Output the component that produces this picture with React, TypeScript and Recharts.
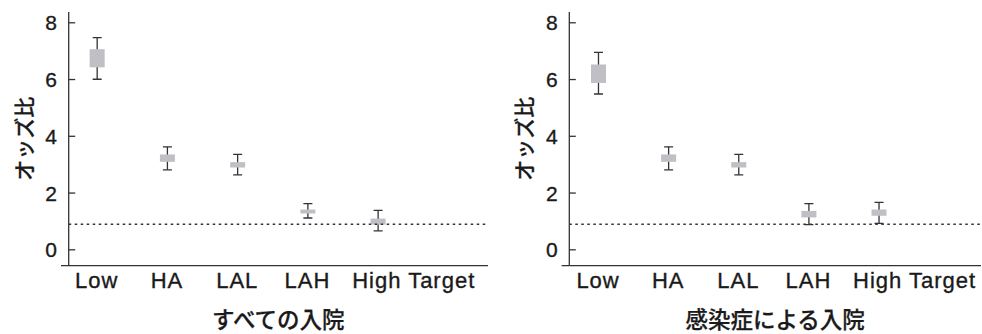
import React from 'react';
import { ComposedChart, Bar, XAxis, YAxis, ReferenceLine } from 'recharts';

// ---- data ----
const categories = ['Low', 'HA', 'LAL', 'LAH', 'High Target'];
const positions = [1, 2, 3, 4, 5];
const yTicks = [0, 2, 4, 6, 8];
const refValue = 0.9;

// すべての入院
const allBoxLo = [6.43, 3.1, 2.9, 1.28, 0.89];
const allBoxHi = [7.07, 3.36, 3.09, 1.42, 1.1];
const allCiLo = [6.01, 2.82, 2.64, 1.12, 0.67];
const allCiHi = [7.48, 3.63, 3.36, 1.63, 1.39];

// 感染症による入院
const infBoxLo = [5.88, 3.1, 2.9, 1.14, 1.2];
const infBoxHi = [6.53, 3.36, 3.09, 1.37, 1.42];
const infCiLo = [5.49, 2.82, 2.64, 0.89, 0.93];
const infCiHi = [6.96, 3.63, 3.36, 1.63, 1.67];

const titles = ['すべての入院', '感染症による入院'];
const yLabelText = 'オッズ比';

const LATIN = '"Liberation Sans", Arial, sans-serif';
const CJK = '"Noto Sans CJK JP", "Noto Sans", sans-serif';
const INK = '#1a1a1a';
const AXIS = '#333333';

type Row = {
  name: string;
  pos: number;
  ci: [number, number];
  boxLo: number;
  boxHi: number;
  ciLo: number;
  ciHi: number;
};

function buildRows(boxLo: number[], boxHi: number[], ciLo: number[], ciHi: number[]): Row[] {
  return categories.map((name, i) => ({
    name,
    pos: positions[i],
    ci: [ciLo[i], ciHi[i]],
    boxLo: boxLo[i],
    boxHi: boxHi[i],
    ciLo: ciLo[i],
    ciHi: ciHi[i],
  }));
}

const ForestMark = (props: any) => {
  const { x, y, width, height, payload } = props;
  if (x == null || y == null || !payload) return null;
  const top = height >= 0 ? y : y + height;
  const h = Math.abs(height);
  const span = payload.ciHi - payload.ciLo;
  const ppu = span > 0 ? h / span : 0;
  const cx = x + width / 2;
  const bTop = top + (payload.ciHi - payload.boxHi) * ppu;
  const bBot = top + (payload.ciHi - payload.boxLo) * ppu;
  const cap = 4.5;
  return (
    <g>
      <line x1={cx} x2={cx} y1={top} y2={top + h} stroke={AXIS} strokeWidth={1.3} />
      <line x1={cx - cap} x2={cx + cap} y1={top} y2={top} stroke={AXIS} strokeWidth={1.3} />
      <line x1={cx - cap} x2={cx + cap} y1={top + h} y2={top + h} stroke={AXIS} strokeWidth={1.3} />
      <rect x={x} y={bTop} width={width} height={Math.max(bBot - bTop, 1)} fill="#bfbfc5" />
    </g>
  );
};

const YTick = (props: any) => {
  const { x, y, payload } = props;
  return (
    <g>
      <text
        x={x}
        y={y}
        dy="0.355em"
        textAnchor="end"
        fontSize={21}
        fontFamily={LATIN}
        fill={INK}
        stroke={INK}
        strokeWidth={0.35}
      >
        {payload.value}
      </text>
      <line x1={x + 11.7} x2={x + 18.2} y1={y} y2={y} stroke={AXIS} strokeWidth={1.3} />
    </g>
  );
};

const XTick = (props: any) => {
  const { x, y, payload } = props;
  const idx = positions.indexOf(payload.value);
  const label = idx >= 0 ? categories[idx] : '';
  const shift = label === 'High Target' ? 36 : 0;
  return (
    <text
      x={x + shift}
      y={y}
      dy="0.71em"
      textAnchor="middle"
      fontSize={22}
      letterSpacing={1}
      fontFamily={LATIN}
      fill={INK}
      stroke={INK}
      strokeWidth={0.35}
    >
      {label}
    </text>
  );
};

type PanelProps = {
  rows: Row[];
  title: string;
  xDomain: [number, number];
  marginLeft: number;
  marginRight: number;
  labelOffset: number;
};

const Y_DOMAIN: [number, number] = [-0.56, 8.38];

function Panel({ rows, title, xDomain, marginLeft, marginRight, labelOffset }: PanelProps) {
  return (
    <ComposedChart
      width={491}
      height={334}
      data={rows}
      margin={{ top: 12, right: marginRight, bottom: 0, left: marginLeft }}
    >
      <XAxis
        dataKey="pos"
        type="number"
        domain={xDomain}
        allowDataOverflow
        ticks={positions}
        axisLine={false}
        tickLine={false}
        tickSize={0}
        tickMargin={7}
        height={68.3}
        tick={<XTick />}
        interval={0}
        label={{
          content: (p: any) => {
            const vb = p.viewBox || {};
            return (
              <text
                x={vb.x + vb.width / 2}
                y={328}
                textAnchor="middle"
                fontSize={22.5}
                fontWeight={500}
                fontFamily={CJK}
                fill={INK}
                stroke={INK}
                strokeWidth={0.25}
              >
                {title}
              </text>
            );
          },
        }}
      />
      <YAxis
        type="number"
        domain={Y_DOMAIN}
        allowDataOverflow
        ticks={yTicks}
        width={60}
        axisLine={{ stroke: AXIS, strokeWidth: 1.3 }}
        tickLine={false}
        tickSize={0}
        tickMargin={11.7}
        tick={<YTick />}
        interval={0}
        label={{
          content: (p: any) => {
            const vb = p.viewBox || {};
            const cx = vb.x + labelOffset;
            const cy = vb.y + vb.height / 2;
            return (
              <text
                x={cx}
                y={cy}
                transform={`rotate(-90, ${cx}, ${cy})`}
                textAnchor="middle"
                dominantBaseline="central"
                fontSize={21}
                fontWeight={500}
                fontFamily={CJK}
                fill={INK}
                stroke={INK}
                strokeWidth={0.25}
              >
                {yLabelText}
              </text>
            );
          },
        }}
      />
      <ReferenceLine
        y={refValue}
        stroke={AXIS}
        strokeWidth={1.3}
        strokeDasharray="2.5 3.5"
      />
      <ReferenceLine
        segment={[
          { x: xDomain[0] - 0.11, y: Y_DOMAIN[0] },
          { x: xDomain[1], y: Y_DOMAIN[0] },
        ]}
        ifOverflow="visible"
        stroke={AXIS}
        strokeWidth={1.3}
      />
      <Bar dataKey="ci" barSize={15} shape={<ForestMark />} isAnimationActive={false} />
    </ComposedChart>
  );
}

export default function App() {
  const allRows = buildRows(allBoxLo, allBoxHi, allCiLo, allCiHi);
  const infRows = buildRows(infBoxLo, infBoxHi, infCiLo, infCiHi);
  return (
    <div
      style={{
        position: 'absolute',
        left: 0,
        top: 0,
        width: 982,
        height: 334,
        display: 'flex',
        background: '#ffffff',
        overflow: 'hidden',
      }}
    >
      <Panel
        rows={allRows}
        title={titles[0]}
        xDomain={[0.6, 6.57]}
        marginLeft={8.7}
        marginRight={3}
        labelOffset={14.3}
      />
      <Panel
        rows={infRows}
        title={titles[1]}
        xDomain={[0.59, 6.46]}
        marginLeft={18.3}
        marginRight={1}
        labelOffset={13.4}
      />
    </div>
  );
}
